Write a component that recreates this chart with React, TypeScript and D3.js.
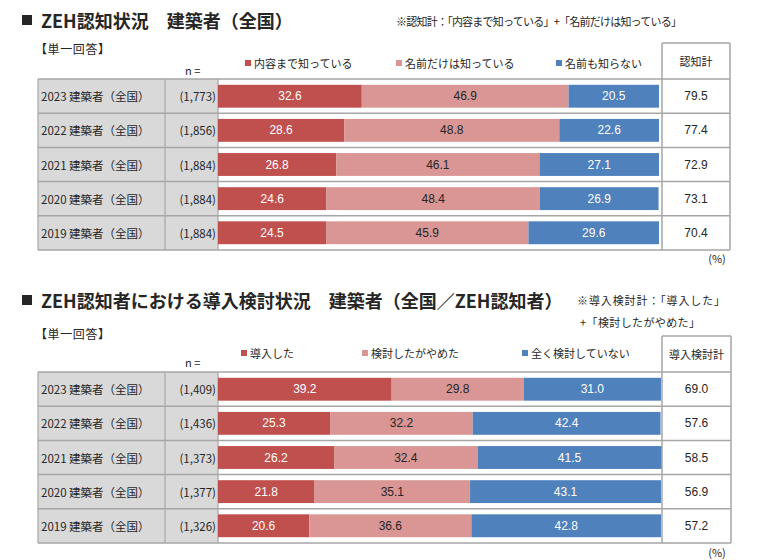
import React from 'react';
import * as d3 from 'd3';

// ---------- Data ----------
const rowLabels = ['2023 建築者（全国）', '2022 建築者（全国）', '2021 建築者（全国）', '2020 建築者（全国）', '2019 建築者（全国）'];

const awarenessN = ['(1,773)', '(1,856)', '(1,884)', '(1,884)', '(1,884)'];
const awarenessSeriesNames = ['内容まで知っている', '名前だけは知っている', '名前も知らない'];
const knowContent = [32.6, 28.6, 26.8, 24.6, 24.5];
const knowNameOnly = [46.9, 48.8, 46.1, 48.4, 45.9];
const knowNothing = [20.5, 22.6, 27.1, 26.9, 29.6];
const awarenessTotal = ['79.5', '77.4', '72.9', '73.1', '70.4'];

const adoptionN = ['(1,409)', '(1,436)', '(1,373)', '(1,377)', '(1,326)'];
const adoptionSeriesNames = ['導入した', '検討したがやめた', '全く検討していない'];
const adopted = [39.2, 25.3, 26.2, 21.8, 20.6];
const consideredStopped = [29.8, 32.2, 32.4, 35.1, 36.6];
const notConsidered = [31.0, 42.4, 41.5, 43.1, 42.8];
const adoptionTotal = ['69.0', '57.6', '58.5', '56.9', '57.2'];

const colors = ['#c0504d', '#d99694', '#4f81bd'];
const labelColors = ['#ffffff', '#262626', '#ffffff'];

const JP = '"Noto Sans CJK JP", "Noto Sans", sans-serif';
const NUM = '"Liberation Sans", Arial, sans-serif';
const GRID = '#a6a6a6';
const TEXT = '#262626';

type PanelProps = {
  top: number;
  rowH: number;
  labels: string[];
  ns: string[];
  series: number[][];
  names: string[];
  totals: string[];
  totalHeader: string;
  headerTop: number;
  legendY: number;
  legendX: number[];
  nY: number;
  pctY: number;
  barEnd: number;
  rightEdge: number;
};

function Panel(p: PanelProps) {
  const left = 38;
  const col1 = 165;
  const barStart = 218;
  const colTot = 662;
  const n = p.labels.length;
  const bottom = p.top + p.rowH * n;
  const x = d3.scaleLinear().domain([0, 100]).range([barStart, p.barEnd]);
  const y = d3.scaleBand<number>().domain(d3.range(n)).range([p.top, bottom]).paddingInner(0.33).paddingOuter(0.17);

  const rows = d3.range(n).map(i => {
    const obj: any = { i };
    p.series.forEach((s, k) => (obj['s' + k] = s[i]));
    return obj;
  });
  const stack = d3.stack<any>().keys(p.series.map((_, k) => 's' + k))(rows);

  return (
    <g>
      <rect x={left} y={p.top} width={barStart - left} height={bottom - p.top} fill="#d9d9d9" />
      <line x1={colTot} x2={p.rightEdge} y1={p.headerTop} y2={p.headerTop} stroke={GRID} strokeWidth={1.5} />
      <line x1={colTot} x2={colTot} y1={p.headerTop} y2={bottom} stroke={GRID} strokeWidth={1.5} />
      <line x1={p.rightEdge} x2={p.rightEdge} y1={p.headerTop} y2={bottom} stroke={GRID} strokeWidth={1.5} />
      <text x={(colTot + p.rightEdge) / 2} y={(p.headerTop + p.top) / 2} textAnchor="middle" dominantBaseline="central" fontFamily={JP} fontSize={11} fill={TEXT}>{p.totalHeader}</text>
      {d3.range(n + 1).map(i => (
        <line key={'h' + i} x1={left} x2={p.rightEdge} y1={p.top + i * p.rowH} y2={p.top + i * p.rowH} stroke={GRID} strokeWidth={1.5} />
      ))}
      {[left, col1, barStart].map((vx, i) => (
        <line key={'v' + i} x1={vx} x2={vx} y1={p.top} y2={bottom} stroke={GRID} strokeWidth={1.2} />
      ))}
      {stack.map((layer, k) => (
        <g key={'l' + k}>
          {layer.map((d, i) => (
            <g key={i}>
              <rect x={x(d[0])} y={y(i)} width={x(d[1]) - x(d[0])} height={y.bandwidth()} fill={colors[k]} />
              <text x={(x(d[0]) + x(d[1])) / 2} y={(y(i) as number) + y.bandwidth() / 2} textAnchor="middle" dominantBaseline="central" fontFamily={NUM} fontSize={12} fill={labelColors[k]}>
                {p.series[k][i].toFixed(1)}
              </text>
            </g>
          ))}
        </g>
      ))}
      {p.labels.map((lab, i) => {
        const cy = p.top + (i + 0.5) * p.rowH;
        return (
          <g key={'t' + i}>
            <text x={41} y={cy} dominantBaseline="central" fontFamily={JP} fontSize={11.5} fill={TEXT}>{lab}</text>
            <text x={216} y={cy} textAnchor="end" dominantBaseline="central" fontFamily={JP} fontSize={11.5} fill={TEXT}>{p.ns[i]}</text>
            <text x={(colTot + p.rightEdge) / 2} y={cy} textAnchor="middle" dominantBaseline="central" fontFamily={NUM} fontSize={12} fill={TEXT}>{p.totals[i]}</text>
          </g>
        );
      })}
      {p.names.map((nm, k) => (
        <g key={'lg' + k}>
          <rect x={p.legendX[k]} y={p.legendY - 3} width={6} height={6} fill={colors[k]} />
          <text x={p.legendX[k] + 9} y={p.legendY} dominantBaseline="central" fontFamily={JP} fontSize={11} fill={TEXT}>{nm}</text>
        </g>
      ))}
      <text x={185} y={p.nY} dominantBaseline="central" fontFamily={JP} fontSize={11} fill={TEXT}>n =</text>
      <text x={717} y={p.pctY} textAnchor="middle" dominantBaseline="central" fontFamily={JP} fontSize={11} fill={TEXT}>(%)</text>
    </g>
  );
}

export default function App() {
  return (
    <svg width={763} height={560} style={{ position: 'absolute', left: 0, top: 0, background: '#ffffff' }}>
      <rect width={763} height={560} fill="#ffffff" />
      {/* Section 1 */}
      <rect x={22} y={15} width={10} height={10} fill={TEXT} />
      <text x={41} y={20} dominantBaseline="central" fontFamily={JP} fontSize={18} fontWeight="bold" fill={TEXT}>ZEH認知状況　建築者（全国）</text>
      <text x={396} y={21} dominantBaseline="central" fontFamily={JP} fontSize={11} fill={TEXT} textLength={286} lengthAdjust="spacing">※認知計：「内容まで知っている」+「名前だけは知っている」</text>
      <text x={35} y={48} dominantBaseline="central" fontFamily={JP} fontSize={12} fill={TEXT} textLength={75} lengthAdjust="spacing">【単一回答】</text>
      <Panel
        top={79}
        rowH={34.2}
        labels={rowLabels}
        ns={awarenessN}
        series={[knowContent, knowNameOnly, knowNothing]}
        names={awarenessSeriesNames}
        totals={awarenessTotal}
        totalHeader="認知計"
        headerTop={43}
        legendY={63}
        legendX={[245, 396, 556]}
        nY={70}
        pctY={258}
        barEnd={659}
        rightEdge={730}
      />
      {/* Section 2 */}
      <rect x={22} y={295} width={10} height={10} fill={TEXT} />
      <text x={41} y={300} dominantBaseline="central" fontFamily={JP} fontSize={18} fontWeight="bold" fill={TEXT}>ZEH認知者における導入検討状況　建築者（全国／ZEH認知者）</text>
      <text x={577} y={300} dominantBaseline="central" fontFamily={JP} fontSize={11} fill={TEXT} textLength={148} lengthAdjust="spacing">※導入検討計：「導入した」</text>
      <text x={580} y={322} dominantBaseline="central" fontFamily={JP} fontSize={11} fill={TEXT} textLength={120} lengthAdjust="spacing">+「検討したがやめた」</text>
      <text x={35} y={333} dominantBaseline="central" fontFamily={JP} fontSize={12} fill={TEXT} textLength={75} lengthAdjust="spacing">【単一回答】</text>
      <Panel
        top={372}
        rowH={34.2}
        labels={rowLabels}
        ns={adoptionN}
        series={[adopted, consideredStopped, notConsidered]}
        names={adoptionSeriesNames}
        totals={adoptionTotal}
        totalHeader="導入検討計"
        headerTop={336}
        legendY={353}
        legendX={[241, 362, 522]}
        nY={362}
        pctY={552}
        barEnd={661}
        rightEdge={731}
      />
    </svg>
  );
}
